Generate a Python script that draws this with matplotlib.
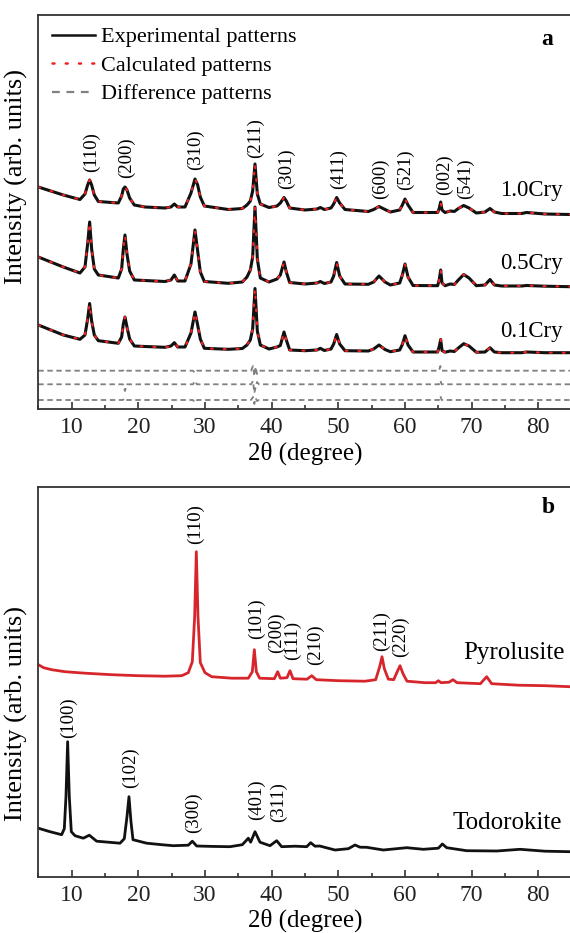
import matplotlib
matplotlib.use("Agg")
import matplotlib.pyplot as plt
from matplotlib.lines import Line2D
from matplotlib.ticker import MultipleLocator

plt.rcParams['font.family'] = ['Liberation Serif', 'DejaVu Serif']

# ---------------- Panel a data (cryptomelane, arbitrary intensity units) ----------------
cry_2theta = [5.0, 8.75, 11.25, 12.0, 12.4, 12.7, 13.0, 13.4, 14.0, 17.0, 17.5, 17.75, 18.0, 18.3, 18.7, 19.4,
              21.0, 24.0, 24.9, 25.4, 25.9, 27.0, 27.9, 28.5, 28.9, 29.3, 29.9, 33.5, 35.6, 36.3, 36.8, 37.15,
              37.5, 37.85, 38.3, 39.6, 40.8, 41.3, 41.85, 42.2, 42.7, 45.0, 46.8, 47.3, 47.9, 48.9, 49.3,
              49.75, 50.2, 51.0, 54.5, 55.3, 56.1, 57.0, 57.8, 59.2, 59.6, 60.0, 60.45, 61.2, 64.9, 65.15,
              65.35, 65.55, 66.0, 66.8, 67.4, 68.0, 68.8, 69.6, 70.7, 72.0, 72.75, 73.4, 74.5, 77.5, 78.2,
              81.0, 84.75]
cry_10 = [222, 214, 209.5, 215, 224, 229, 224, 214, 207.5, 206, 213, 220, 222, 219, 211, 204,
          202, 201, 202, 205, 202, 202, 216, 230, 224, 212, 203, 199.5, 200.5, 204, 208, 218,
          245, 215, 205, 201.5, 203, 206, 211.5, 208, 201, 199, 200, 201.5, 199.5, 201, 205,
          211.5, 206, 199.5, 197.5, 199.5, 202.5, 199.5, 197, 199, 204, 210, 204, 196.5, 196.5, 201,
          207, 199, 196.5, 198, 197.5, 200.5, 203.5, 201, 196, 197, 200.5, 197, 195.5, 195.5, 196.5,
          195, 194.5]
cry_05 = [152, 142, 136, 142, 165, 187, 160, 140, 134, 131, 140, 160, 174, 155, 138, 129,
          128.5, 127.5, 129, 134, 128, 128, 145, 179, 158, 137, 127.5, 125.7, 127, 132, 139, 152,
          202, 150, 131, 127, 130, 134, 147, 137, 126.5, 125, 126, 127.5, 125.5, 127, 133,
          146.5, 133, 125, 124.7, 127, 133, 127, 124, 126, 134, 145, 132, 123.5, 123.3, 130,
          139, 126, 123.3, 125, 124.5, 129, 134.5, 131, 123.3, 124, 129.5, 124, 123, 123, 123.5,
          122.8, 122.3]
cry_01 = [84, 74, 69.7, 74, 90, 105.5, 88, 74, 68.3, 65.7, 72, 85, 92, 82, 70, 63,
          62.5, 61.7, 63, 66.3, 62, 62, 76, 97, 84, 70, 60.7, 59.7, 60.5, 64, 69, 80,
          120.5, 78, 64, 60, 62, 63.5, 77, 69, 59, 58.3, 59, 60.7, 58.5, 60, 65,
          74.5, 65, 58.3, 58, 60, 64, 59.5, 57.3, 59, 64.5, 73.3, 64, 57, 57, 63,
          69.5, 58.5, 56.8, 58, 57.5, 61, 65.3, 63, 56.7, 57, 61.3, 57, 56.3, 56.3, 57,
          56.3, 56.3]

diff_2theta = [5, 12.5, 12.7, 12.9, 17.7, 18.0, 18.3, 28.2, 28.5, 28.8, 36.9, 37.2, 37.4, 37.6, 37.8, 38.1,
               65.1, 65.3, 65.5, 85]
diff_10 = [38.3, 38.3, 39.5, 38.3, 38.3, 40, 38.3, 38.3, 36, 38.3, 38.3, 43, 33, 42, 35, 38.3,
           38.3, 43, 38.3, 38.3]
diff_05 = [24.7, 24.7, 26, 24.7, 24.7, 18, 24.7, 24.7, 28, 24.7, 24.7, 28, 16, 22, 27, 24.7,
           24.7, 28.5, 24.7, 24.7]
diff_01 = [9, 9, 10, 9, 9, 11, 9, 9, 6.5, 9, 9, 12, 5, 11, 8, 9,
           9, 13, 9, 9]

cry_hkl = ['(110)', '(200)', '(310)', '(211)', '(301)', '(411)', '(600)', '(521)', '(002)', '(541)']
cry_hkl_x = [13.0, 18.25, 28.6, 37.5, 42.15, 50.0, 56.25, 60.0, 65.85, 69.1]
cry_hkl_y = [257, 251, 259, 271, 240, 240, 230, 239, 234, 230]

cry_names = ['1.0Cry', '0.5Cry', '0.1Cry']
cry_name_y = [219, 145, 78]

# ---------------- Panel b data ----------------
pyr_2theta = [5.0, 5.8, 7.0, 9.0, 12, 16, 20, 24, 26.5, 27.5, 28.1, 28.45, 28.7, 28.95, 29.3, 30.0,
              31.0, 34, 36.5, 37.1, 37.4, 37.7, 38.2, 40.4, 40.9, 41.3, 42.3, 42.75, 43.2, 45.3, 46.0,
              46.7, 50, 54, 55.6, 56.2, 56.55, 56.9, 57.5, 58.3, 58.9, 59.25, 59.7, 60.3, 63, 64.6,
              65.0, 65.4, 66.6, 67.2, 67.8, 71.3, 72.25, 73.0, 77, 81, 84.75]
pyr_int = [212, 209, 207, 205, 203.5, 202, 201, 200.5, 201, 204, 215, 260, 325, 260, 214, 204,
           200, 198.5, 198.5, 205, 227, 205, 198.5, 198, 205, 198.5, 199, 206, 198, 197.5, 201,
           197, 196, 195.5, 197, 210, 220, 208, 197.5, 197, 206, 211, 203, 195.5, 194, 194,
           196, 194, 194.5, 197, 194, 193, 200, 193, 191.5, 191, 190]

tod_2theta = [5.0, 6.75, 8.5, 8.9, 9.15, 9.4, 9.65, 9.95, 10.5, 11.75, 12.65, 13.75, 15.5, 17.25, 17.9,
              18.3, 18.6, 18.9, 19.2, 21.25, 23.5, 25.25, 27.5, 28.1, 28.75, 31, 33.75, 35.6, 36.5,
              36.85, 37.5, 38.25, 39.75, 40.75, 41.5, 43.5, 45.25, 45.85, 46.5, 47.2, 49.5, 51.5,
              52.5, 53.25, 54.25, 56.75, 60.25, 62.75, 65.0, 65.6, 66.25, 69.25, 73.75, 77.25, 81,
              84.75]
tod_int = [48.5, 45, 42, 48, 80, 135, 80, 45, 41, 38.5, 41.5, 35.5, 34.5, 33.5, 38,
           60, 80, 55, 37, 33.5, 32, 31, 31.5, 35.5, 30.7, 30.3, 30, 32, 38.5,
           34.5, 45, 34.5, 31, 36, 30, 30.5, 30, 34, 30.5, 30.7, 26.7, 28,
           31.7, 29.5, 29.4, 26.7, 29, 27.4, 28.5, 32.7, 29, 26, 25.7, 27.4, 25.5,
           25]

pyr_hkl = ['(110)', '(101)', '(200)', '(111)', '(210)', '(211)', '(220)']
pyr_hkl_x = [28.5, 37.75, 40.7, 43.1, 46.5, 56.5, 59.35]
pyr_hkl_y = [353, 258, 244, 236, 232, 246, 240]

tod_hkl = ['(100)', '(102)', '(300)', '(401)', '(311)']
tod_hkl_x = [9.5, 18.75, 28.25, 37.75, 41.0]
tod_hkl_y = [159, 109, 64, 77, 75]

# ---------------- Figure ----------------
W, H = 570, 933
fig = plt.figure(figsize=(W / 100, H / 100), dpi=100)

def px_axes(left, top, right, bottom):
    return fig.add_axes([left / W, 1 - bottom / H, (right - left) / W, (bottom - top) / H])

ax_a = px_axes(38.3, 15, 571.7, 409)
ax_b = px_axes(38.3, 487, 571.7, 876.7)

BLACK = '#111111'
RED = '#d7262b'
GRAY = '#808080'

for ax in (ax_a, ax_b):
    ax.set_xlim(5, 85)
    ax.set_yticks([])
    ax.xaxis.set_major_locator(MultipleLocator(10))
    ax.xaxis.set_minor_locator(MultipleLocator(5))
    ax.tick_params(axis='x', which='major', direction='in', length=5, width=1.1,
                   labelsize=17, pad=6, colors='#222222')
    ax.tick_params(axis='x', which='minor', direction='in', length=3, width=1.1, colors='#222222')
    ax.spines['right'].set_visible(False)
    for s in ('left', 'top', 'bottom'):
        ax.spines[s].set_linewidth(1.3)
        ax.spines[s].set_color('#333333')
    ax.set_xlabel('2θ (degree)', fontsize=18, labelpad=2)
    ax.set_ylabel('Intensity (arb. units)', fontsize=19)

ax_a.yaxis.set_label_coords(-0.019, 0.59)
ax_b.yaxis.set_label_coords(-0.019, 0.42)

# Panel a
ax_a.set_ylim(0, 394)
for yv in (cry_10, cry_05, cry_01):
    ax_a.plot(cry_2theta, yv, color=BLACK, lw=2.2, solid_joinstyle='round')
    ax_a.plot(cry_2theta, yv, color='#ee2222', lw=1.6, linestyle=(0, (0.8, 5)), dash_capstyle='round')
for dv in (diff_10, diff_05, diff_01):
    ax_a.plot(diff_2theta, dv, color=GRAY, lw=1.3, linestyle=(0, (3, 2)))

for lab, xv, yv in zip(cry_hkl, cry_hkl_x, cry_hkl_y):
    ax_a.text(xv, yv, lab, rotation=90, ha='center', va='center', fontsize=13.5)
for lab, yv in zip(cry_names, cry_name_y):
    ax_a.text(79.0, yv, lab, ha='center', va='center', fontsize=16.5)
ax_a.text(81.3, 370, 'a', ha='center', va='center', fontsize=17, fontweight='bold')

handles = [Line2D([], [], color=BLACK, lw=1.8),
           Line2D([], [], color='#ee2222', lw=1.8, linestyle=(0, (0.8, 4.5)), dash_capstyle='round'),
           Line2D([], [], color=GRAY, lw=1.6, linestyle=(0, (3.5, 3)))]
ax_a.legend(handles, ['Experimental patterns', 'Calculated patterns', 'Difference patterns'],
            loc='upper left', bbox_to_anchor=(0.0257, 0.970), frameon=False, fontsize=16,
            handlelength=1.94, handletextpad=0.25, labelspacing=0.36, borderpad=0, borderaxespad=0)

# Panel b
ax_b.set_ylim(0, 389.7)
ax_b.plot(pyr_2theta, pyr_int, color=RED, lw=2.0, solid_joinstyle='round')
ax_b.plot(tod_2theta, tod_int, color=BLACK, lw=2.0, solid_joinstyle='round')
for lab, xv, yv in zip(pyr_hkl, pyr_hkl_x, pyr_hkl_y):
    ax_b.text(xv, yv, lab, rotation=90, ha='center', va='center', fontsize=13.5)
for lab, xv, yv in zip(tod_hkl, tod_hkl_x, tod_hkl_y):
    ax_b.text(xv, yv, lab, rotation=90, ha='center', va='center', fontsize=13.5)
ax_b.text(76.3, 224, 'Pyrolusite', ha='center', va='center', fontsize=18)
ax_b.text(75.4, 54, 'Todorokite', ha='center', va='center', fontsize=18)
ax_b.text(81.5, 369, 'b', ha='center', va='center', fontsize=17, fontweight='bold')

fig.savefig('out.png', dpi=100)
